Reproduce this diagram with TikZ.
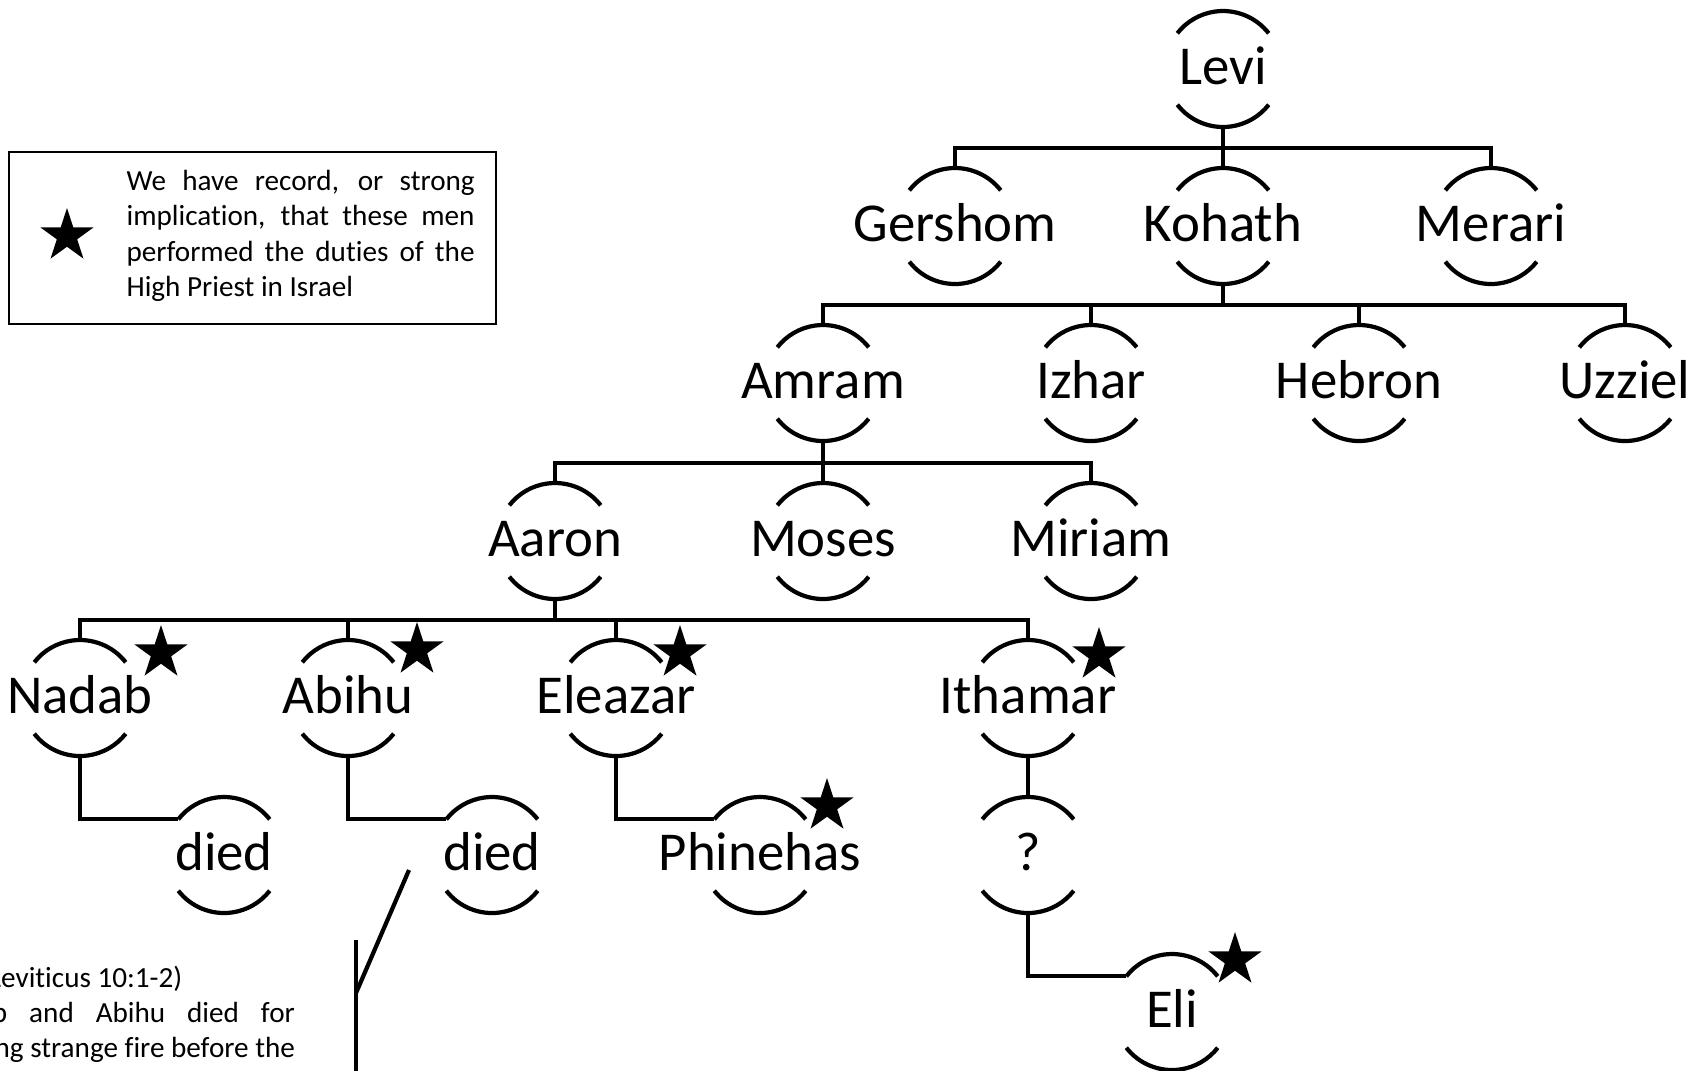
\documentclass[tikz,border=0pt]{standalone}
\usepackage{fontspec}
\setmainfont[Ligatures=NoCommon]{Carlito}
\usetikzlibrary{shapes.geometric}

\tikzset{
  person/.style={circle, minimum size=1.16cm, inner sep=0pt, outer sep=0pt,
    label={[namefont]center:#1}},
  namefont/.style={font=\fontsize{15.6}{18}\selectfont, text height=0.31cm,
    text depth=0pt, inner sep=0pt},
  priest/.style={star, star points=5, star point ratio=2.618, fill=black,
    minimum size=0.56cm, inner sep=0pt},
  note/.style={font=\fontsize{8.3}{10}\selectfont, inner sep=0pt, anchor=base west},
}
\newcommand{\fullline}[1]{\makebox[3.48cm][s]{#1}}

\begin{document}
\begin{tikzpicture}[very thick]
  \useasboundingbox (0,0) rectangle (16.92,-10.70);

  % key
  \draw[semithick] (0.09,-1.52) rectangle (4.96,-3.24);
  \node[priest] (key) at (0.67,-2.36) {};
  \node[note] (key1) at (1.245,-1.90) {\fullline{We have record, or strong}};
  \node[note] (key2) at (1.245,-2.255) {\fullline{implication, that these men}};
  \node[note] (key3) at (1.245,-2.61) {\fullline{performed the duties of the}};
  \node[note] (key4) at (1.245,-2.965) {High Priest in Israel};

  % generations
  \node[person=Levi] (levi) at (12.23,-0.69) {};

  \node[person=Gershom] (gershom) at (9.55,-2.26) {};
  \node[person=Kohath] (kohath) at (12.23,-2.26) {};
  \node[person=Merari] (merari) at (14.91,-2.26) {};

  \node[person=Amram] (amram) at (8.23,-3.83) {};
  \node[person=Izhar] (izhar) at (10.91,-3.83) {};
  \node[person=Hebron] (hebron) at (13.59,-3.83) {};
  \node[person=Uzziel] (uzziel) at (16.25,-3.83) {};

  \node[person=Aaron] (aaron) at (5.55,-5.41) {};
  \node[person=Moses] (moses) at (8.23,-5.41) {};
  \node[person=Miriam] (miriam) at (10.91,-5.41) {};

  \node[person=Nadab] (nadab) at (0.80,-6.98) {};
  \node[person=Abihu] (abihu) at (3.48,-6.98) {};
  \node[person=Eleazar] (eleazar) at (6.16,-6.98) {};
  \node[person=Ithamar] (ithamar) at (10.28,-6.98) {};

  \node[person=died] (died1) at (2.24,-8.55) {};
  \node[person=died] (died2) at (4.92,-8.55) {};
  \node[person=Phinehas] (phinehas) at (7.60,-8.55) {};
  \node[person=?] (unknown) at (10.28,-8.55) {};

  \node[person=Eli] (eli) at (11.72,-10.12) {};

  \foreach \p in {levi,gershom,kohath,merari,amram,izhar,hebron,uzziel,
      aaron,moses,miriam,nadab,abihu,eleazar,ithamar,
      died1,died2,phinehas,unknown,eli}{
    \draw (\p.38) arc (38:142:0.58);
    \draw (\p.218) arc (218:322:0.58);
  }

  % lines of descent
  \draw (levi.south) -- (kohath.north);
  \draw (gershom.north) -- ++(0,0.2) -| (merari.north);

  \draw (kohath.south) -- ++(0,-0.21);
  \draw (amram.north) -- ++(0,0.2) -| (uzziel.north);
  \draw (izhar.north) -- ++(0,0.2);
  \draw (hebron.north) -- ++(0,0.2);

  \draw (amram.south) -- (moses.north);
  \draw (aaron.north) -- ++(0,0.2) -| (miriam.north);

  \draw (aaron.south) -- ++(0,-0.21);
  \draw (nadab.north) -- ++(0,0.2) -| (ithamar.north);
  \draw (abihu.north) -- ++(0,0.2);
  \draw (eleazar.north) -- ++(0,0.2);

  \draw (nadab.south) |- (died1.142);
  \draw (abihu.south) |- (died2.142);
  \draw (eleazar.south) |- (phinehas.142);
  \draw (ithamar.south) -- (unknown.north);
  \draw (unknown.south) |- (eli.142);

  % high priests
  \node[priest] (star1) at (1.61,-6.53) {};
  \node[priest] (star2) at (4.17,-6.50) {};
  \node[priest] (star3) at (6.80,-6.53) {};
  \node[priest] (star4) at (10.99,-6.55) {};
  \node[priest] (star5) at (8.27,-8.06) {};
  \node[priest] (star6) at (12.35,-9.60) {};

  % note on Nadab and Abihu
  \coordinate (tip) at (4.09,-8.70);
  \coordinate (elbow) at (3.56,-9.93);
  \draw (tip) -- (elbow);
  \draw (3.56,-9.40) -- (3.56,-10.75);
  \node[note] (ref) at (-0.22,-9.87) {(Leviticus 10:1-2)};
  \node[note, anchor=base east] (cause1) at (2.97,-10.22)
    {\makebox[3.65cm][s]{Nadab and Abihu died for}};
  \node[note, anchor=base east] (cause2) at (2.97,-10.57)
    {offering strange fire before the};
\end{tikzpicture}
\end{document}
